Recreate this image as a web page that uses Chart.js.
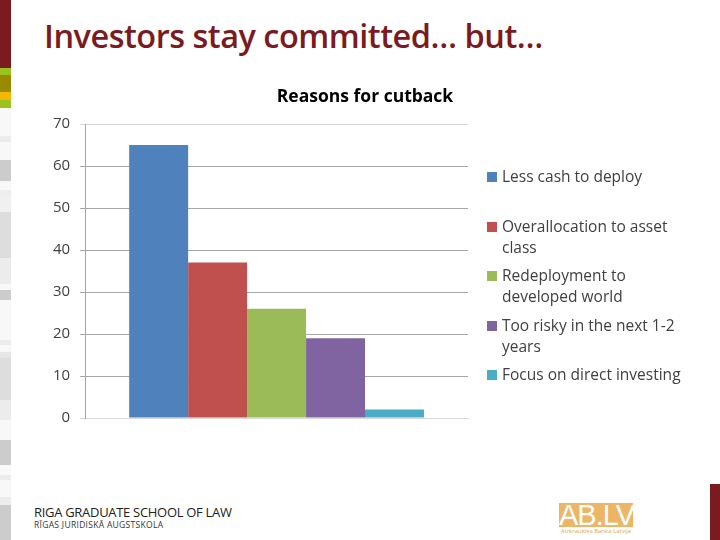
<!DOCTYPE html>
<html>
<head>
<meta charset="utf-8">
<script src="https://cdn.jsdelivr.net/npm/chart.js@4/dist/chart.umd.min.js"></script>
<style>
    body { margin: 0; width: 720px; height: 540px; background: #fff; position: relative; overflow: hidden; font-family: 'Open Sans', sans-serif; }
    .strip { position: absolute; left: 0; width: 11px; }
    #slideTitle { position: absolute; left: 44px; top: 13px; font-size: 32.5px; font-weight: 600; color: #7b1a1f; letter-spacing: -0.5px; white-space: nowrap; }
    #chartCanvas { position: absolute; left: 10px; top: 78px; }
    #legend { position: absolute; left: 487px; top: 166px; width: 230px; }
    .legend-item { position: relative; height: 49.5px; padding-left: 15px; font-size: 15.5px; line-height: 21px; color: #404040; font-family: 'Open Sans', sans-serif; letter-spacing: 0px; white-space: nowrap; }
    .legend-box { position: absolute; left: 0; top: 6px; width: 10px; height: 10px; }
    #school1 { position: absolute; left: 34px; top: 503px; font-size: 13px; color: #222; letter-spacing: -0.3px; font-family: 'Open Sans', sans-serif; }
    #school2 { position: absolute; left: 34px; top: 519px; font-size: 8.5px; color: #333; letter-spacing: 0.3px; }
    #ablv { position: absolute; left: 559px; top: 503px; width: 74px; height: 24px; background: #edb566; color: #fff; font-size: 29px; line-height: 25px; text-align: center; font-family: 'Liberation Sans', sans-serif; letter-spacing: -1px; overflow: hidden; }
    #ablvSub { position: absolute; left: 559px; top: 527px; width: 74px; text-align: center; font-size: 6px; color: #d9a55d; }
    #redBar { position: absolute; left: 710px; top: 484px; width: 10px; height: 56px; background: #7b1a1f; }
</style>
</head>
<body>
<div id="strips"></div>
<div id="slideTitle">Investors stay committed… but…</div>
<canvas id="chartCanvas" width="710" height="359"></canvas>
<div id="legend"></div>
<div id="school1">RIGA GRADUATE SCHOOL OF LAW</div>
<div id="school2">RĪGAS JURIDISKĀ AUGSTSKOLA</div>
<div id="ablv">AB.LV</div>
<div id="ablvSub">Aizkraukles Banka Latvija</div>
<div id="redBar"></div>
<script>
const chartTitle = 'Reasons for cutback';
const reasons = [
    ['Less cash to deploy'],
    ['Overallocation to asset', 'class'],
    ['Redeployment to', 'developed world'],
    ['Too risky in the next 1-2', 'years'],
    ['Focus on direct investing'],
];
const percentages = [65, 37, 26, 19, 2];
const yTicks = [0, 10, 20, 30, 40, 50, 60, 70];
const barColors = ['#4f81bd', '#c0504d', '#9bbb59', '#8064a2', '#4bacc6'];

// decorative strip on the left edge of the slide
const stripBlocks = [
    [0, 68, '#7b1a1f'], [68, 7, '#9ac31c'], [75, 17, '#9a8a00'], [92, 8, '#f5b800'], [100, 8, '#9ac31c'],
    [108, 28, '#f8f8f8'], [136, 6, '#ececec'], [142, 18, '#f8f8f8'], [160, 21, '#cccccc'], [181, 9, '#f8f8f8'],
    [190, 6, '#eeeeee'], [196, 16, '#f0f0f0'], [212, 46, '#dddddd'], [258, 26, '#ececec'], [284, 6, '#f8f8f8'],
    [290, 10, '#cccccc'], [300, 40, '#f8f8f8'], [340, 5, '#ececec'], [345, 7, '#f8f8f8'], [352, 6, '#e6e6e6'],
    [358, 42, '#dddddd'], [400, 20, '#ececec'], [420, 20, '#f8f8f8'], [440, 25, '#cccccc'], [465, 10, '#f8f8f8'],
    [475, 5, '#ececec'], [480, 17, '#f8f8f8'], [497, 8, '#ececec'], [505, 35, '#cccccc'],
];
const strips = document.getElementById('strips');
stripBlocks.forEach(([top, h, color]) => {
    const d = document.createElement('div');
    d.className = 'strip';
    d.style.top = top + 'px';
    d.style.height = h + 'px';
    d.style.background = color;
    strips.appendChild(d);
});

const datasets = reasons.map((lines, i) => ({
    label: lines.join(' '),
    data: [percentages[i]],
    backgroundColor: barColors[i],
    categoryPercentage: 0.77,
    barPercentage: 1.0,
}));

// the chart title sits centred over the whole chart (plot + legend), like in Excel
const centredTitle = {
    id: 'centredTitle',
    afterDraw(chart) {
        const { ctx } = chart;
        ctx.save();
        ctx.font = 'bold 17.5px "Open Sans"';
        ctx.fillStyle = '#000';
        ctx.textAlign = 'center';
        ctx.textBaseline = 'middle';
        ctx.fillText(chartTitle, chart.width / 2, 19);
        ctx.restore();
    },
};

new Chart(document.getElementById('chartCanvas').getContext('2d'), {
    type: 'bar',
    data: { labels: [''], datasets },
    plugins: [centredTitle],
    options: {
        responsive: false,
        animation: false,
        layout: { padding: { left: 33, right: 252, top: 46, bottom: 5 } },
        plugins: {
            legend: { display: false },
            tooltip: { enabled: false },
        },
        scales: {
            x: {
                grid: { display: false },
                border: { color: '#d9d9d9' },
                ticks: { display: false },
            },
            y: {
                min: 0,
                max: 70,
                afterBuildTicks: axis => { axis.ticks = yTicks.map(v => ({ value: v })); },
                grid: {
                    color: ctx => (ctx.tick && (ctx.tick.value === 0 || ctx.tick.value === 70)) ? '#d4d4d4' : '#a6a6a6',
                    tickLength: 5,
                },
                border: { color: '#a6a6a6' },
                ticks: {
                    color: '#404040',
                    padding: 10,
                    font: { family: 'Open Sans', size: 15 },
                },
            },
        },
    },
});

const legend = document.getElementById('legend');
reasons.forEach((lines, i) => {
    const item = document.createElement('div');
    item.className = 'legend-item';
    item.innerHTML = `<span class="legend-box" style="background:${barColors[i]}"></span>${lines.join('<br>')}`;
    legend.appendChild(item);
});
</script>
</body>
</html>
